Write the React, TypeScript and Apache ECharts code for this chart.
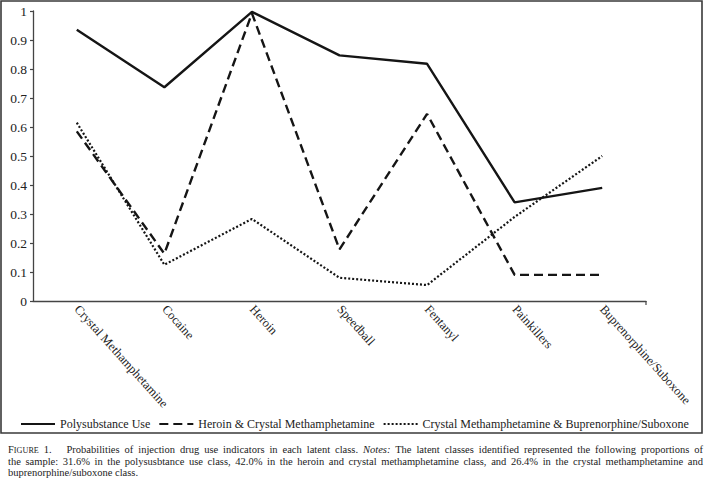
import React, { useEffect, useRef } from "react";
import * as echarts from "echarts";

const categories = [
  "Crystal Methamphetamine",
  "Cocaine",
  "Heroin",
  "Speedball",
  "Fentanyl",
  "Painkillers",
  "Buprenorphine/Suboxone",
];
const polysubstance = [0.935, 0.737, 0.997, 0.847, 0.818, 0.34, 0.39];
const heroinCrystal = [0.585, 0.163, 0.992, 0.178, 0.645, 0.09, 0.09];
const crystalBup = [0.615, 0.125, 0.283, 0.08, 0.055, 0.29, 0.5];
const seriesNames = [
  "Polysubstance Use",
  "Heroin & Crystal Methamphetamine",
  "Crystal Methamphetamine & Buprenorphine/Suboxone",
];

const SERIF = "Liberation Serif";

export default function App() {
  const ref = useRef<HTMLDivElement>(null);
  useEffect(() => {
    if (!ref.current) return;
    const chart = echarts.init(ref.current, null, { renderer: "svg" });
    const ink = "#151515";
    chart.setOption({
      animation: false,
      backgroundColor: "#fff",
      textStyle: { fontFamily: SERIF },
      grid: { left: 33, top: 11, width: 613, height: 290, containLabel: false },
      legend: {
        left: 20,
        top: 418,
        width: 684,
        padding: 0,
        itemWidth: 34,
        itemHeight: 12,
        itemGap: 8,
        itemStyle: { color: "rgba(0,0,0,0)", borderColor: "rgba(0,0,0,0)", borderWidth: 0, opacity: 0 },
        textStyle: { fontFamily: SERIF, fontSize: 12, color: "#222" },
        data: seriesNames,
      },
      xAxis: {
        type: "category",
        data: categories,
        boundaryGap: true,
        axisLine: { lineStyle: { color: "#444", width: 1.3 } },
        axisTick: { alignWithLabel: true, length: 4, lineStyle: { color: "#444", width: 1.2 } },
        axisLabel: {
          rotate: -48,
          interval: 0,
          margin: 6,
          fontFamily: SERIF,
          fontSize: 12.5,
          color: "#222",
        },
      },
      yAxis: {
        type: "value",
        min: 0,
        max: 1,
        interval: 0.1,
        splitLine: { show: false },
        axisLine: { show: true, lineStyle: { color: "#444", width: 1.3 } },
        axisTick: { show: true, length: 3, lineStyle: { color: "#444", width: 1.2 } },
        axisLabel: { fontFamily: SERIF, fontSize: 13.5, color: "#222", margin: 6 },
      },
      graphic: [
        {
          type: "rect",
          shape: { x: 1, y: 1, width: 701, height: 432 },
          style: { fill: "none", stroke: "#3a3a3a", lineWidth: 1.6 },
          silent: true,
        },
        {
          type: "line",
          shape: { x1: 646, y1: 301, x2: 646, y2: 305 },
          style: { stroke: "#444", lineWidth: 1.2 },
          silent: true,
        },
      ],
      series: [
        {
          name: seriesNames[0],
          type: "line",
          data: polysubstance,
          symbol: "none",
          color: ink,
          lineStyle: { color: ink, width: 2.4, type: "solid" },
        },
        {
          name: seriesNames[1],
          type: "line",
          data: heroinCrystal,
          symbol: "none",
          color: ink,
          lineStyle: { color: ink, width: 2.4, type: [9, 5] },
        },
        {
          name: seriesNames[2],
          type: "line",
          data: crystalBup,
          symbol: "none",
          color: ink,
          lineStyle: { color: ink, width: 2.2, type: [2, 2] },
        },
      ],
    });
    return () => chart.dispose();
  }, []);

  return (
    <div
      style={{
        position: "fixed",
        left: 0,
        top: 0,
        width: 707,
        height: 482,
        background: "#fff",
        overflow: "hidden",
      }}
    >
      <div ref={ref} style={{ position: "absolute", left: 0, top: 0, width: 707, height: 440 }} />
      <div
        style={{
          position: "absolute",
          left: 8,
          top: 444,
          width: 695,
          fontFamily: SERIF,
          fontSize: 10.5,
          lineHeight: "11px",
          color: "#222",
        }}
      >
        <div style={{ textAlign: "justify", textAlignLast: "justify" }}>
          <span>F</span>
          <span style={{ fontSize: 8.2 }}>IGURE</span>
          <span>{" 1.\u00a0\u00a0\u00a0"}</span>
          {"Probabilities of injection drug use indicators in each latent class. "}
          <i>Notes:</i>
          {" The latent classes identified represented the following proportions of"}
        </div>
        <div style={{ textAlign: "justify", textAlignLast: "justify" }}>
          the sample: 31.6% in the polysusbtance use class, 42.0% in the heroin and crystal methamphetamine class, and 26.4% in the crystal methamphetamine and
        </div>
        <div>buprenorphine/suboxone class.</div>
      </div>
    </div>
  );
}
